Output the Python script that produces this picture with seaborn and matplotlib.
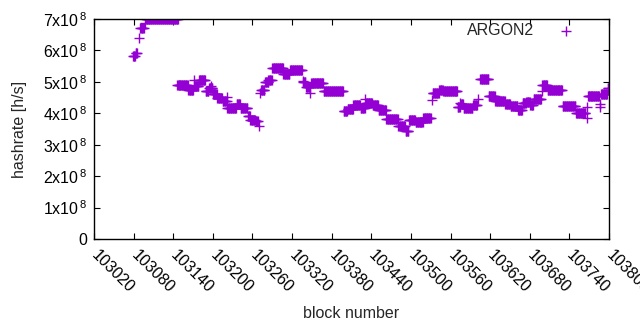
import numpy as np
import pandas as pd
import seaborn as sns
from matplotlib import pyplot as plt

# constant-hashrate runs: first block, last block, rate (x1e8 h/s)
run_start = [103079, 103083, 103088, 103090, 103097, 103099, 103146, 103163, 103171, 103172,
             103179, 103189, 103194, 103197, 103200, 103207, 103215, 103221, 103222, 103236,
             103242, 103253, 103257, 103265, 103270, 103272, 103273, 103279, 103283, 103285,
             103290, 103307, 103317, 103336, 103337, 103341, 103347, 103349, 103368, 103398,
             103404, 103413, 103424, 103431, 103432, 103442, 103451, 103463, 103481, 103492,
             103497, 103507, 103519, 103532, 103533, 103543, 103549, 103571, 103575, 103576,
             103580, 103594, 103602, 103605, 103618, 103628, 103643, 103651, 103662, 103669,
             103675, 103681, 103683, 103686, 103698, 103699, 103707, 103730, 103750, 103766,
             103767, 103768, 103786, 103787, 103788, 103798]
run_end = [103082, 103085, 103088, 103095, 103097, 103147, 103162, 103170, 103171, 103178,
           103188, 103193, 103199, 103197, 103206, 103214, 103221, 103221, 103235, 103241,
           103252, 103256, 103264, 103268, 103270, 103272, 103278, 103284, 103283, 103289,
           103306, 103316, 103335, 103336, 103340, 103347, 103347, 103367, 103397, 103403,
           103412, 103423, 103430, 103431, 103441, 103450, 103462, 103480, 103491, 103496,
           103506, 103518, 103530, 103532, 103542, 103548, 103570, 103574, 103575, 103579,
           103593, 103600, 103602, 103617, 103627, 103642, 103650, 103661, 103668, 103674,
           103680, 103682, 103685, 103697, 103698, 103706, 103729, 103749, 103764, 103766,
           103767, 103785, 103786, 103787, 103797, 103800]
run_rate = [5.83, 5.92, 6.39, 6.71, 6.87, 6.99, 4.89, 4.74, 5.05, 4.86,
            5.05, 4.72, 4.80, 4.87, 4.60, 4.50, 4.40, 4.52, 4.18, 4.30,
            4.17, 3.92, 3.80, 3.75, 3.60, 4.64, 4.75, 4.98, 5.05, 5.05,
            5.44, 5.25, 5.37, 5.03, 5.00, 4.85, 4.64, 4.95, 4.72, 4.06,
            4.14, 4.25, 4.18, 4.45, 4.33, 4.25, 4.10, 3.83, 3.60, 3.45,
            3.80, 3.72, 3.85, 4.42, 4.66, 4.75, 4.71, 4.20, 4.33, 4.30,
            4.18, 4.25, 4.45, 5.08, 4.55, 4.38, 4.30, 4.22, 4.12, 4.33,
            4.35, 4.25, 4.27, 4.45, 4.70, 4.90, 4.75, 4.22, 4.02, 3.85,
            4.20, 4.55, 4.20, 4.28, 4.60, 4.80]

blocks = []
rates = []
for s, e, r in zip(run_start, run_end, run_rate):
    for b in range(s, e + 1):
        blocks.append(b)
        rates.append(r * 1e8)
df = pd.DataFrame({"block": blocks, "hashrate": rates})

xticks = list(range(103020, 103801, 60))
yticks = [0, 1e8, 2e8, 3e8, 4e8, 5e8, 6e8, 7e8]
ylabels = ["0"] + [r"$\mathregular{%dx10^{\,8}}$" % k for k in range(1, 8)]

sns.set_style("ticks")
plt.rcParams["font.family"] = ["Liberation Sans", "DejaVu Sans"]
plt.rcParams["mathtext.fontset"] = "custom"
plt.rcParams["mathtext.rm"] = "Liberation Sans"
fs = 11.5

fig = plt.figure(figsize=(6.4, 3.3), dpi=100)
ax = fig.add_axes([94 / 640, 91 / 330, 515 / 640, 220 / 330])

sns.scatterplot(data=df, x="block", y="hashrate", marker="+", s=55, color="#9400D3",
                linewidth=1.0, label="ARGON2", ax=ax)

ax.set_xlim(103020, 103800)
ax.set_ylim(0, 7e8)
ax.set_xticks(xticks)
ax.set_xticklabels([str(t) for t in xticks], rotation=-45, ha="left", va="center",
                   rotation_mode="anchor", fontsize=fs)
ax.set_yticks(yticks)
ax.set_yticklabels(ylabels, fontsize=fs)
ax.tick_params(direction="in", length=4, width=0.8, top=True, right=True, colors="black")
ax.tick_params(axis="x", pad=10)
ax.tick_params(axis="y", pad=5)
for sp in ax.spines.values():
    sp.set_linewidth(1)
    sp.set_color("black")
ax.set_xlabel("block number", fontsize=fs, labelpad=7)
ax.set_ylabel("hashrate [h/s]", fontsize=fs, labelpad=11)
ax.legend(loc="upper right", frameon=False, markerfirst=False, fontsize=fs,
          bbox_to_anchor=(0.975, 1.045), handletextpad=1.0, markerscale=1.0)

fig.savefig("out.png", dpi=100)
